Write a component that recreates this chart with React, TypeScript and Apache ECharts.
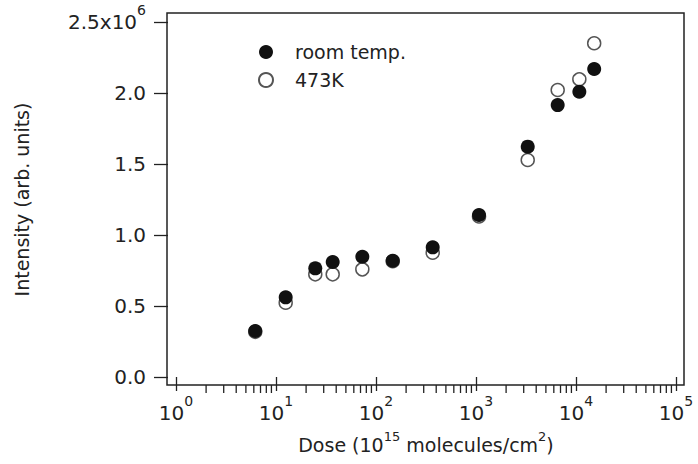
import React, { useEffect, useRef } from "react";
import * as echarts from "echarts";

// Dose (10^15 molecules/cm^2)
const doses = [6.2, 12.5, 24.7, 36.9, 73, 147, 369, 1072, 3290, 6560, 10800, 15200];
// Intensity (x10^6 arb. units)
const roomTemp = [0.324, 0.561, 0.765, 0.81, 0.847, 0.819, 0.913, 1.141, 1.622, 1.915, 2.009, 2.169];
const hot473K = [0.318, 0.523, 0.723, 0.723, 0.758, 0.815, 0.875, 1.13, 1.528, 2.021, 2.096, 2.35];
// minor tick positions on the log dose axis
const minorTicks = [
  2, 3, 4, 5, 6, 7, 8, 9,
  20, 30, 40, 50, 60, 70, 80, 90,
  200, 300, 400, 500, 600, 700, 800, 900,
  2000, 3000, 4000, 5000, 6000, 7000, 8000, 9000,
  20000, 30000, 40000, 50000, 60000, 70000, 80000, 90000,
];
const yTicks = [0, 0.5, 1.0, 1.5, 2.0, 2.5];

const FONT = "DejaVu Sans";
const INK = "#222";

const tickRich = {
  m: { fontFamily: FONT, fontSize: 20, lineHeight: 38, color: INK },
  s: { fontFamily: FONT, fontSize: 14, lineHeight: 14, color: INK, verticalAlign: "top" as const },
};
const nameRich = {
  m: { fontFamily: FONT, fontSize: 19, lineHeight: 30, color: INK },
  s: { fontFamily: FONT, fontSize: 13, lineHeight: 13, color: INK, verticalAlign: "top" as const },
};

export default function App() {
  const ref = useRef<HTMLDivElement>(null);
  useEffect(() => {
    if (!ref.current) return;
    const chart = echarts.init(ref.current, undefined, { renderer: "svg" });
    chart.setOption({
      animation: false,
      backgroundColor: "#fff",
      grid: { left: 176, right: 22, top: 22, bottom: 87 },
      graphic: [
        {
          type: "rect",
          shape: { x: 167, y: 13, width: 517, height: 372 },
          style: { fill: "none", stroke: INK, lineWidth: 1.5 },
          silent: true,
        },
      ],
      legend: {
        orient: "vertical",
        left: 253,
        top: 37,
        itemWidth: 14,
        itemHeight: 14,
        itemGap: 8,
        data: [
          { name: "room temp.", icon: "circle" },
          { name: "473K", icon: "circle" },
        ],
        textStyle: {
          fontFamily: FONT,
          fontSize: 19,
          lineHeight: 20,
          color: INK,
          padding: [0, 0, 0, 17],
        },
      },
      xAxis: {
        type: "log",
        logBase: 10,
        min: 1,
        max: 100000,
        offset: 8,
        axisLine: { show: false },
        axisTick: { show: true, length: 14, lineStyle: { color: INK, width: 1.3 } },
        splitLine: { show: false },
        minorTick: { show: false },
        axisLabel: {
          margin: 9,
          formatter: (v: number) => `{m|10}{s|${Math.round(Math.log10(v))}}`,
          rich: tickRich,
        },
        name: "{m|Dose (10}{s|15}{m| molecules/cm}{s|2}{m|)}",
        nameLocation: "middle",
        nameGap: 45,
        nameTextStyle: { rich: nameRich },
      },
      yAxis: {
        type: "value",
        min: 0,
        max: 2.5,
        interval: 0.5,
        offset: 8,
        axisLine: { show: false },
        axisTick: { show: true, length: 14, lineStyle: { color: INK, width: 1.3 } },
        splitLine: { show: false },
        axisLabel: {
          margin: 22,
          formatter: (v: number) =>
            Math.abs(v - yTicks[yTicks.length - 1]) < 1e-9
              ? `{m|${v.toFixed(1)}x10}{s|6}`
              : `{m|${v.toFixed(1)}}`,
          rich: tickRich,
        },
        name: "Intensity (arb. units)",
        nameLocation: "middle",
        nameGap: 137,
        nameTextStyle: { fontFamily: FONT, fontSize: 19, color: INK },
      },
      series: [
        {
          name: "473K",
          type: "scatter",
          symbol: "circle",
          symbolSize: 13,
          data: doses.map((d, i) => [d, hot473K[i]]),
          itemStyle: { color: "#fff", borderColor: "#555", borderWidth: 1.5, opacity: 1 },
          z: 2,
        },
        {
          name: "room temp.",
          type: "scatter",
          symbol: "circle",
          symbolSize: 14,
          data: doses.map((d, i) => [d, roomTemp[i]]),
          itemStyle: { color: "#111", opacity: 1 },
          z: 3,
        },
        {
          name: "minor",
          type: "custom",
          silent: true,
          clip: false,
          data: minorTicks.map((v) => [v, 0]),
          renderItem: (params: any, api: any) => {
            const p = api.coord([api.value(0), 0]);
            return {
              type: "line",
              shape: { x1: p[0], y1: p[1] + 8, x2: p[0], y2: p[1] + 16 },
              style: { stroke: INK, lineWidth: 1.3 },
            };
          },
        },
      ],
    });
    return () => chart.dispose();
  }, []);
  return (
    <div
      ref={ref}
      style={{ position: "fixed", left: 0, top: 0, width: 698, height: 464 }}
    />
  );
}
